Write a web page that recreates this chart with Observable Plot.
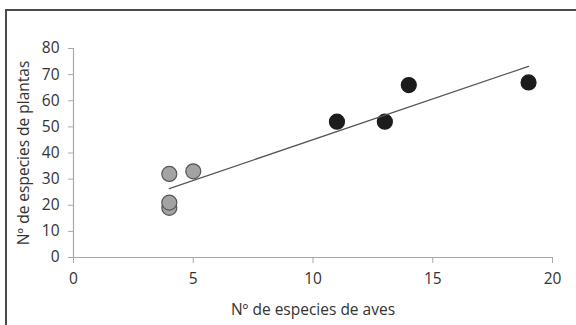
<!DOCTYPE html>
<html>
<head>
<meta charset="utf-8">
<script src="https://cdn.jsdelivr.net/npm/d3@7"></script>
<script src="https://cdn.jsdelivr.net/npm/@observablehq/plot@0.6"></script>
<style>
  html, body { margin: 0; padding: 0; background: #fff; }
  #wrap { position: relative; width: 576px; height: 325px; overflow: hidden; }
  #frame { position: absolute; left: 5px; top: 9px; width: 600px; height: 400px;
           border-top: 2px solid #4a4a4a; border-left: 2px solid #4a4a4a; box-sizing: border-box; }
  #chart { position: absolute; left: 0; top: 0; }
</style>
</head>
<body>
<div id="wrap"><div id="frame"></div><div id="chart"></div></div>
<script>
const aves    = [4, 4, 4, 5, 11, 13, 14, 19];
const plantas = [19, 21, 32, 33, 52, 52, 66, 67];
const grupo   = ["gris", "gris", "gris", "gris", "negro", "negro", "negro", "negro"];
const xTicks = [0, 5, 10, 15, 20];
const yTicks = [0, 10, 20, 30, 40, 50, 60, 70, 80];

const data = aves.map((a, i) => ({aves: a, plantas: plantas[i], grupo: grupo[i]}));

const chart = Plot.plot({
  width: 576,
  height: 325,
  marginLeft: 73,
  marginRight: 24,
  marginTop: 48,
  marginBottom: 68,
  style: {fontFamily: "'Open Sans', sans-serif", fontSize: "15.5px", background: "transparent", color: "#333"},
  x: {domain: [0, 20]},
  y: {domain: [0, 80]},
  color: {domain: ["gris", "negro"], range: ["#a3a3a3", "#1c1c1c"]},
  marks: [
    Plot.ruleY([0], {stroke: "#a8a8a8", strokeWidth: 1.2}),
    Plot.ruleX([0], {stroke: "#a8a8a8", strokeWidth: 1.2}),
    Plot.axisX({ticks: xTicks, tickSize: 6, tickPadding: 9, stroke: "#a8a8a8", fill: "#333",
                fontSize: 15.5,
                label: "Nº de especies de aves", labelAnchor: "center", labelArrow: "none", labelOffset: 57}),
    Plot.axisY({ticks: yTicks, tickSize: 5, tickPadding: 9, stroke: "#a8a8a8", fill: "#333",
                fontSize: 15.5,
                label: "Nº de especies de plantas", labelAnchor: "center", labelArrow: "none", labelOffset: 56}),
    Plot.dot(data, {x: "aves", y: "plantas", r: 7.5, fill: "grupo",
                    stroke: d => d.grupo === "gris" ? "#555" : "#1c1c1c", strokeWidth: 1.2}),
    Plot.linearRegressionY(data, {x: "aves", y: "plantas", ci: 0, stroke: "#555", strokeWidth: 1.3})
  ]
});
document.getElementById("chart").appendChild(chart);
</script>
</body>
</html>
